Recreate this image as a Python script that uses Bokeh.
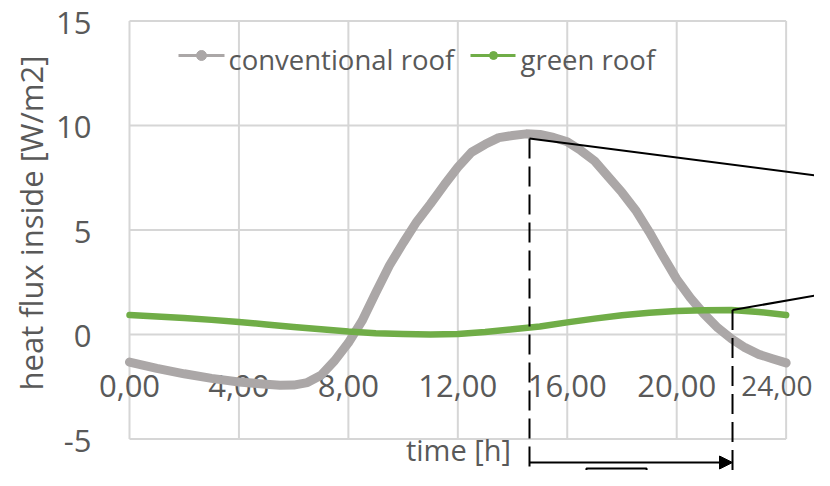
from bokeh.plotting import figure
from bokeh.models import Range1d, Arrow, NormalHead
from bokeh.embed import file_html
from bokeh.resources import INLINE
from bokeh.core.properties import value

# ---------------- data ----------------
conv_hours = [0, 1, 2, 3, 4, 5, 5.5, 6, 6.5, 7, 7.5, 8, 8.5, 9, 9.5, 10, 10.5, 11,
              11.5, 12, 12.5, 13, 13.5, 14, 14.5, 15, 15.5, 16, 16.5, 17, 17.5,
              18, 18.5, 19, 19.5, 20, 20.5, 21, 21.5, 22, 22.5, 23, 23.5, 24]
conventional_roof = [-1.32, -1.62, -1.88, -2.1, -2.27, -2.38, -2.43, -2.42, -2.3,
                     -1.95, -1.25, -0.4, 0.65, 2.0, 3.3, 4.38, 5.4, 6.25, 7.15, 8.0,
                     8.72, 9.1, 9.42, 9.52, 9.6, 9.57, 9.43, 9.22, 8.8, 8.3, 7.55,
                     6.8, 5.95, 4.9, 3.75, 2.65, 1.75, 0.98, 0.32, -0.2, -0.63,
                     -0.95, -1.16, -1.36]
green_hours = list(range(25))
green_roof = [0.93, 0.86, 0.79, 0.7, 0.6, 0.48, 0.36, 0.25, 0.14, 0.06, 0.02, 0.0,
              0.02, 0.12, 0.25, 0.38, 0.58, 0.76, 0.92, 1.04, 1.12, 1.16, 1.17,
              1.08, 0.93]

series_names = ["conventional roof", "green roof"]

x_ticks = [0, 4, 8, 12, 16, 20, 24]
x_tick_labels = ["0,00", "4,00", "8,00", "12,00", "16,00", "20,00", "24,00"]
y_ticks = [-5, 0, 5, 10, 15]
y_tick_labels = ["-5", "0", "5", "10", "15"]

# annotation: peak of each curve and the time lag between them
peak_hours = [14.62, 22.04]
peak_values = [9.38, 1.17]
callout_end_hour = 25.62
callout_end_values = [7.52, 1.99]
box_hours = [16.7, 18.9]

# ---------------- layout (pixel constants) ----------------
W, H = 814, 470
PX_H = 27.36          # pixels per hour
PX_V = 20.9           # pixels per W/m2
X0_PX = 129           # pixel column of hour 0
Y0_PX = 334           # pixel row of value 0


def hx(px):           # pixel column -> hour
    return (px - X0_PX) / PX_H


def vy(py):           # pixel row -> value
    return (Y0_PX - py) / PX_V


GRAY = "#ABA7A7"
GREEN = "#70AD47"
TXT = "#595959"
GRID = "#D6D6D6"
FONT = value("Open Sans")

p = figure(width=W, height=H, output_backend="svg", toolbar_location=None,
           x_axis_type=None, y_axis_type=None, min_border=0,
           x_range=Range1d(hx(0), hx(W)), y_range=Range1d(vy(H), vy(0)))
p.outline_line_color = None
p.xgrid.visible = False
p.ygrid.visible = False

xmin, xmax = x_ticks[0], x_ticks[-1]
ymin, ymax = y_ticks[0], y_ticks[-1]

# gridlines
p.segment(x0=[xmin] * len(y_ticks), x1=[xmax] * len(y_ticks), y0=y_ticks, y1=y_ticks,
          line_color=GRID, line_width=2)
p.segment(x0=x_ticks, x1=x_ticks, y0=[ymin] * len(x_ticks), y1=[ymax] * len(x_ticks),
          line_color=GRID, line_width=2)

# y tick labels
p.text(x=[hx(91)] * len(y_ticks), y=[t - 1.5 / PX_V for t in y_ticks],
       text=y_tick_labels, text_font=FONT, text_font_size="31px", text_color=TXT,
       text_align="right", text_baseline="middle")
# x tick labels (last one nudged/shrunk to stay inside the canvas)
p.text(x=x_ticks[:-1], y=[vy(385)] * (len(x_ticks) - 1), text=x_tick_labels[:-1],
       text_font=FONT, text_font_size="31px", text_color=TXT,
       text_align="center", text_baseline="middle")
p.text(x=[hx(W - 2)], y=[vy(385)], text=x_tick_labels[-1:],
       text_font=FONT, text_font_size="28px", text_color=TXT,
       text_align="right", text_baseline="middle")

# axis titles
p.text(x=[hx(30.5)], y=[vy(222.5)], text=["heat flux inside [W/m2]"],
       angle=1.5707963, text_font=FONT, text_font_size="31px", text_color=TXT,
       text_align="center", text_baseline="middle")
p.text(x=[hx(458)], y=[vy(449)], text=["time [h]"],
       text_font=FONT, text_font_size="29px", text_color=TXT,
       text_align="center", text_baseline="middle")

# data
p.line(conv_hours, conventional_roof, line_color=GRAY, line_width=9,
       line_cap="round", line_join="round")
p.line(green_hours, green_roof, line_color=GREEN, line_width=6.5,
       line_cap="round", line_join="round")

# annotations
p.segment(x0=peak_hours, x1=[callout_end_hour] * 2, y0=peak_values,
          y1=callout_end_values, line_color="black", line_width=2)
p.segment(x0=peak_hours, x1=peak_hours, y0=peak_values, y1=[vy(H + 20)] * 2,
          line_color="black", line_width=2, line_dash="20 8")
p.add_layout(Arrow(end=NormalHead(size=13, fill_color="black", line_color="black"),
                   x_start=peak_hours[0], y_start=vy(462),
                   x_end=peak_hours[1], y_end=vy(462),
                   line_color="black", line_width=2))
p.quad(left=[box_hours[0]], right=[box_hours[1]], top=[vy(468)], bottom=[vy(H + 20)],
       fill_color=None, line_color="black", line_width=2)

# legend (drawn in place, Excel style: line with a dot, label to the right)
leg_line_x0 = [hx(178), hx(470)]
leg_line_x1 = [hx(224), hx(515)]
leg_dot_x = [hx(201), hx(493)]
leg_text_x = [hx(228), hx(520)]
leg_colors = [GRAY, GREEN]
p.segment(x0=leg_line_x0, x1=leg_line_x1, y0=[vy(55)] * 2, y1=[vy(55)] * 2,
          line_color=leg_colors, line_width=3)
p.scatter(x=leg_dot_x, y=[vy(55)] * 2, size=[10, 8], marker="circle",
          fill_color=leg_colors, line_color=leg_colors)
p.text(x=leg_text_x, y=[vy(58.6)] * 2, text=series_names, text_font=FONT,
       text_font_size="27.5px", text_color=TXT, text_align="left",
       text_baseline="middle")

open("out.html", "w").write(file_html(p, INLINE))
